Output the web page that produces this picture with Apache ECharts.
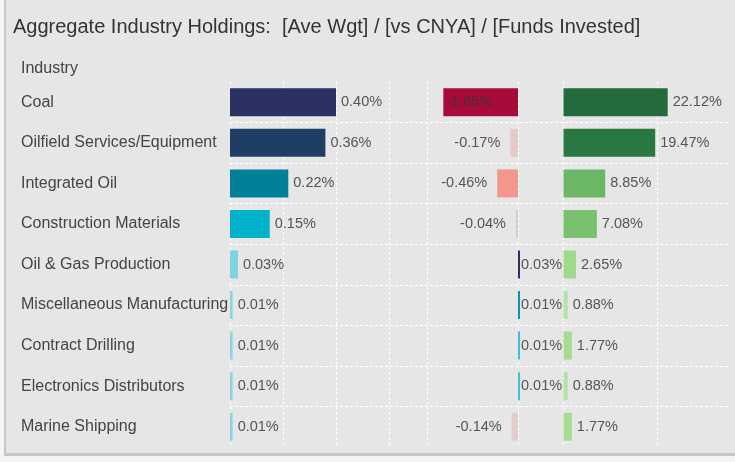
<!DOCTYPE html>
<html>
<head>
<meta charset="utf-8">
<script src="https://cdn.jsdelivr.net/npm/echarts@6/dist/echarts.min.js"></script>
<style>
  html, body { margin: 0; padding: 0; background: #f4f4f4; }
  #card {
    position: absolute; left: 4px; top: 0; width: 731px; height: 456px;
    background: #e6e6e6; border-left: 2px solid #c6c6c6; border-bottom: 3px solid #c6c6c6;
    box-sizing: border-box;
  }
  #chart { position: absolute; left: 0; top: 0; width: 735px; height: 462px; }
</style>
</head>
<body>
<div id="card"></div>
<div id="chart"></div>
<script>
// Industries and the three measures shown per row (values in %)
const industries = [
  'Coal', 'Oilfield Services/Equipment', 'Integrated Oil', 'Construction Materials',
  'Oil & Gas Production', 'Miscellaneous Manufacturing', 'Contract Drilling',
  'Electronics Distributors', 'Marine Shipping'
];
const aveWgt = [0.40, 0.36, 0.22, 0.15, 0.03, 0.01, 0.01, 0.01, 0.01];
const vsCnya = [-1.65, -0.17, -0.46, -0.04, 0.03, 0.01, 0.01, 0.01, -0.14];
const fundsInvested = [22.12, 19.47, 8.85, 7.08, 2.65, 0.88, 1.77, 0.88, 1.77];

// Bar fill colours per row for each panel
const wgtColors = ['#2b3160', '#1f3e66', '#007f98', '#00b3c8', '#7ed3e1', '#85d6e3', '#88d7e4', '#88d7e4', '#88d7e4'];
const cnyaColors = ['#a80b39', '#e6c9cb', '#f3978d', '#cfd0d6', '#2b3160', '#0695ae', '#36c1d6', '#38c3d7', '#e2cccd'];
const fundColors = ['#236a3d', '#2a7841', '#6cb765', '#7bc06f', '#a0d98b', '#b4e2a2', '#a6dc91', '#b4e2a2', '#a6dc91'];

const FONT = 'Liberation Sans';
const TOP = 82, BOTTOM = 15;
const dash = { color: '#ffffff', width: 1, type: [3, 2] };
const pct = v => v.toFixed(2) + '%';

function valueAxis(gridIndex, min, max, interval) {
  return {
    type: 'value', gridIndex, min, max, interval,
    axisLine: { show: false }, axisTick: { show: false }, axisLabel: { show: false },
    splitLine: { show: true, lineStyle: dash }
  };
}
function catAxis(gridIndex, extra) {
  return Object.assign({
    type: 'category', gridIndex, data: industries, inverse: true,
    axisLine: { show: false }, axisTick: { show: false }, axisLabel: { show: false },
    splitLine: { show: false }
  }, extra || {});
}
const barLabel = {
  show: true, fontFamily: FONT, fontSize: 14.5, color: '#555', formatter: p => pct(p.value)
};

const chart = echarts.init(document.getElementById('chart'), null, { renderer: 'canvas' });
chart.setOption({
  animation: false,
  textStyle: { fontFamily: FONT },
  title: {
    text: 'Aggregate Industry Holdings:  [Ave Wgt] / [vs CNYA] / [Funds Invested]',
    left: 8, top: 12,
    textStyle: { fontFamily: FONT, fontSize: 20, fontWeight: 'normal', color: '#333' }
  },
  graphic: [{
    type: 'text', left: 21, top: 61,
    style: { text: 'Industry', font: '16px "Liberation Sans"', fill: '#444' }
  }],
  grid: [
    { left: 230, right: 6, top: TOP, bottom: BOTTOM },          // row separators
    { left: 230, width: 159, top: TOP, bottom: BOTTOM },        // Ave Wgt
    { left: 427.5, width: 90.5, top: TOP, bottom: BOTTOM },     // vs CNYA
    { left: 563.5, width: 94.2, top: TOP, bottom: BOTTOM }      // Funds Invested
  ],
  xAxis: [
    { type: 'value', gridIndex: 0, show: false },
    valueAxis(1, 0, 0.6, 0.2),
    valueAxis(2, -2, 0, 2),
    valueAxis(3, 0, 20, 20)
  ],
  yAxis: [
    catAxis(0, { splitLine: { show: true, showMinLine: false, showMaxLine: false, lineStyle: dash } }),
    catAxis(1, {
      axisLabel: { show: true, align: 'left', margin: 209, fontFamily: FONT, fontSize: 16, color: '#444' }
    }),
    catAxis(2),
    catAxis(3)
  ],
  series: [
    {
      type: 'bar', xAxisIndex: 1, yAxisIndex: 1, barWidth: 28, clip: false,
      data: aveWgt.map((v, i) => ({ value: v, itemStyle: { color: wgtColors[i] } })),
      label: Object.assign({}, barLabel, { position: 'right', distance: 5 })
    },
    {
      type: 'bar', xAxisIndex: 2, yAxisIndex: 2, barWidth: 28, clip: false, barMinHeight: 2,
      data: vsCnya.map((v, i) => {
        let lbl;
        if (v < -1) lbl = { position: 'insideLeft', distance: 3, color: '#443035' };
        else if (v < 0) lbl = { position: 'left', distance: 10 };
        else lbl = { position: 'right', distance: 1 };
        return { value: v, itemStyle: { color: cnyaColors[i] }, label: lbl };
      }),
      label: Object.assign({}, barLabel)
    },
    {
      type: 'bar', xAxisIndex: 3, yAxisIndex: 3, barWidth: 28, clip: false,
      data: fundsInvested.map((v, i) => ({ value: v, itemStyle: { color: fundColors[i] } })),
      label: Object.assign({}, barLabel, { position: 'right', distance: 5 })
    }
  ]
});
</script>
</body>
</html>
